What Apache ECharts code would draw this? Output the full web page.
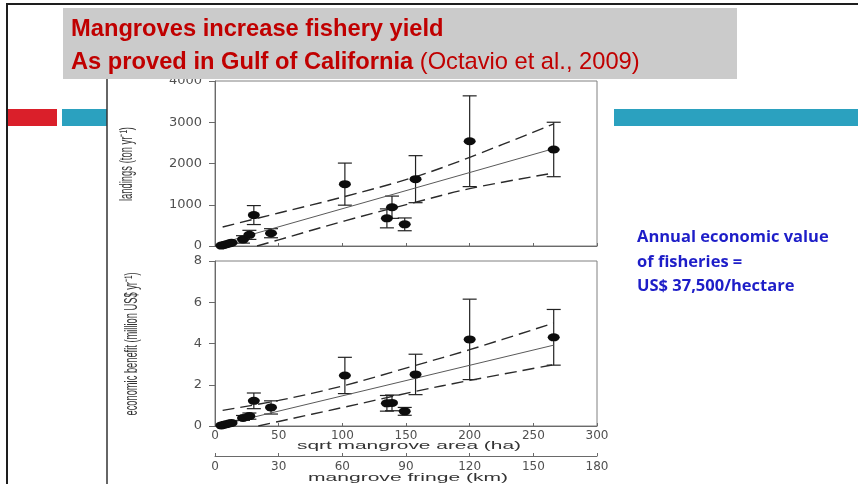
<!DOCTYPE html>
<html>
<head>
<meta charset="utf-8">
<title>Mangroves increase fishery yield</title>
<script src="https://cdn.jsdelivr.net/npm/echarts@6/dist/echarts.min.js"></script>
<style>
  html, body { margin: 0; padding: 0; background: #ffffff; }
  #chart { width: 858px; height: 484px; }
</style>
</head>
<body>
<div id="chart"></div>
<script>
// Sites: square root of mangrove area (ha)
const sqrtArea   = [5, 7, 9, 11, 13, 22, 27, 30.5, 44, 102, 135, 139, 149, 157.5, 200, 266];
// Fishery landings (ton / yr) and their error half-widths
const landings    = [10, 25, 45, 60, 80, 160, 270, 750, 310, 1500, 670, 940, 525, 1620, 2540, 2340];
const landingsErr = [0, 0, 0, 0, 0, 90, 110, 230, 110, 510, 230, 270, 155, 570, 1100, 660];
// Economic benefit (million US$ / yr) and their error half-widths
const benefit    = [0.03, 0.06, 0.09, 0.12, 0.15, 0.39, 0.48, 1.22, 0.9, 2.45, 1.1, 1.12, 0.71, 2.5, 4.2, 4.3];
const benefitErr = [0, 0, 0, 0, 0, 0.12, 0.15, 0.38, 0.32, 0.88, 0.38, 0.38, 0.19, 0.98, 1.95, 1.35];

// Regression line and confidence bands, landings panel
const landingsFitX   = [5, 266];
const landingsFitY   = [70, 2360];
const landingsUpperX = [6, 50, 102, 157.5, 200, 266];
const landingsUpperY = [460, 800, 1200, 1680, 2150, 2960];
const landingsLowerX = [33, 50, 102, 157.5, 200, 266];
const landingsLowerY = [0, 150, 610, 1060, 1390, 1770];

// Regression line and confidence bands, economic benefit panel
const benefitFitX   = [8, 266];
const benefitFitY   = [0.1, 3.92];
const benefitUpperX = [6, 50, 102, 157.5, 200, 266];
const benefitUpperY = [0.76, 1.24, 1.97, 2.94, 3.7, 4.99];
const benefitLowerX = [34, 50, 102, 157.5, 200, 266];
const benefitLowerY = [0, 0.22, 0.92, 1.68, 2.21, 2.97];

// Axis ticks
const areaTicks    = { min: 0, max: 300, step: 50 };
const fringeTicks  = { min: 0, max: 180, step: 30 };
const landingTicks = { min: 0, max: 4000, step: 1000 };
const benefitTicks = { min: 0, max: 8, step: 2 };

// Axis titles
const areaTitle     = 'sqrt mangrove area (ha)';
const fringeTitle   = 'mangrove fringe (km)';
const landingsTitle = 'landings (ton yr⁻¹)';
const benefitTitle  = 'economic benefit (million US$ yr⁻¹)';

// Slide text
const titleLine1 = 'Mangroves increase fishery yield';
const titleLine2Bold = 'As proved in Gulf of California';
const titleLine2Ref = '(Octavio et al., 2009)';
const noteLines = ['Annual economic value', 'of fisheries =', 'US$ 37,500/hectare'];

const zip = (xs, ys) => xs.map((x, i) => [x, ys[i]]);
const errRows = (vals, errs) => sqrtArea.map((x, i) => [x, vals[i] - errs[i], vals[i] + errs[i], errs[i]]);

const tickFont = 'DejaVu Sans, Liberation Sans, sans-serif';
const titleFont = '"Liberation Sans", Arial, sans-serif';
const axisGrey = '#6a6a6a';
const labelGrey = '#505050';

// The figure's lettering is stretched across; scale text to a given run length.
const measureCtx = document.createElement('canvas').getContext('2d');
function runScale(text, font, length) {
  measureCtx.font = font;
  return length / measureCtx.measureText(text).width;
}

function errorBar(params, api) {
  if (api.value(3) <= 0) return null;
  const x = api.value(0);
  const lo = api.coord([x, api.value(1)]);
  const hi = api.coord([x, api.value(2)]);
  const half = 7;
  const st = { stroke: '#222222', lineWidth: 1.2 };
  return {
    type: 'group',
    children: [
      { type: 'line', shape: { x1: lo[0], y1: lo[1], x2: hi[0], y2: hi[1] }, style: st },
      { type: 'line', shape: { x1: hi[0] - half, y1: hi[1], x2: hi[0] + half, y2: hi[1] }, style: st },
      { type: 'line', shape: { x1: lo[0] - half, y1: lo[1], x2: lo[0] + half, y2: lo[1] }, style: st }
    ]
  };
}

function yAxisCfg(grid, ticks, size) {
  return {
    gridIndex: grid, type: 'value',
    min: ticks.min, max: ticks.max, interval: ticks.step,
    axisLine: { show: true, lineStyle: { color: axisGrey, width: 1 } },
    axisTick: { show: true, inside: false, length: 6, lineStyle: { color: axisGrey } },
    axisLabel: { margin: 13, fontFamily: tickFont, fontSize: size, color: labelGrey, formatter: v => String(v) },
    splitLine: { show: false }
  };
}

function fitSeries(xi, yi, data, dashed) {
  return {
    type: 'line', xAxisIndex: xi, yAxisIndex: yi, data: data,
    showSymbol: false, smooth: dashed ? 0.35 : false, silent: true, z: 3,
    lineStyle: dashed ? { color: '#2a2a2a', width: 1.4, type: [12, 6] } : { color: '#5a5a5a', width: 1 }
  };
}

function axisTitle(text, cx, cy, length, vertical) {
  const font = '11px "Liberation Sans", Arial, sans-serif';
  const s = runScale(text, font, length);
  return {
    type: 'text', z: 50, x: cx, y: cy,
    rotation: vertical ? Math.PI / 2 : 0,
    scaleX: s, scaleY: vertical ? 1.65 : 1,
    style: { text: text, font: font, fill: '#333333', align: 'center', verticalAlign: 'middle' }
  };
}

const chart = echarts.init(document.getElementById('chart'), null, { renderer: 'canvas' });

chart.setOption({
  backgroundColor: '#ffffff',
  animation: false,
  grid: [
    { left: 215, right: 261, top: 81, height: 165, show: true, borderColor: '#808080', borderWidth: 1, outerBoundsMode: 'none', containLabel: false },
    { left: 215, right: 261, top: 261, height: 165, show: true, borderColor: '#808080', borderWidth: 1, outerBoundsMode: 'none', containLabel: false }
  ],
  xAxis: [
    {
      gridIndex: 0, type: 'value', min: areaTicks.min, max: areaTicks.max, interval: areaTicks.step,
      axisLine: { lineStyle: { color: axisGrey } },
      axisTick: { inside: true, length: 3, lineStyle: { color: axisGrey } },
      axisLabel: { show: false }, splitLine: { show: false }
    },
    {
      gridIndex: 1, type: 'value', min: areaTicks.min, max: areaTicks.max, interval: areaTicks.step,
      axisLine: { lineStyle: { color: axisGrey } },
      axisTick: { inside: true, length: 3, lineStyle: { color: axisGrey } },
      axisLabel: { margin: 4, fontFamily: tickFont, fontSize: 12, color: labelGrey },
      splitLine: { show: false }
    },
    {
      gridIndex: 1, type: 'value', position: 'bottom', offset: 30,
      min: fringeTicks.min, max: fringeTicks.max, interval: fringeTicks.step,
      axisLine: { show: true, lineStyle: { color: axisGrey } },
      axisTick: { show: true, inside: true, length: 3, lineStyle: { color: axisGrey } },
      axisLabel: { margin: 5, fontFamily: tickFont, fontSize: 12, color: labelGrey },
      splitLine: { show: false }
    }
  ],
  yAxis: [
    yAxisCfg(0, landingTicks, 13),
    yAxisCfg(1, benefitTicks, 13)
  ],
  series: [
    { type: 'custom', xAxisIndex: 0, yAxisIndex: 0, renderItem: errorBar, data: errRows(landings, landingsErr), encode: { x: 0, y: [1, 2] }, z: 2, silent: true },
    { type: 'custom', xAxisIndex: 1, yAxisIndex: 1, renderItem: errorBar, data: errRows(benefit, benefitErr), encode: { x: 0, y: [1, 2] }, z: 2, silent: true },

    fitSeries(0, 0, zip(landingsFitX, landingsFitY), false),
    fitSeries(0, 0, zip(landingsUpperX, landingsUpperY), true),
    fitSeries(0, 0, zip(landingsLowerX, landingsLowerY), true),
    fitSeries(1, 1, zip(benefitFitX, benefitFitY), false),
    fitSeries(1, 1, zip(benefitUpperX, benefitUpperY), true),
    fitSeries(1, 1, zip(benefitLowerX, benefitLowerY), true),

    { type: 'scatter', xAxisIndex: 0, yAxisIndex: 0, data: zip(sqrtArea, landings), symbol: 'circle', symbolSize: [12, 8], itemStyle: { color: '#0d0d0d', opacity: 1 }, z: 5, silent: true },
    { type: 'scatter', xAxisIndex: 1, yAxisIndex: 1, data: zip(sqrtArea, benefit), symbol: 'circle', symbolSize: [12, 8], itemStyle: { color: '#0d0d0d', opacity: 1 }, z: 5, silent: true }
  ],
  graphic: [
    // axis titles
    axisTitle(areaTitle, 409, 446, 224, false),
    axisTitle(fringeTitle, 408, 478, 200, false),
    axisTitle(landingsTitle, 127, 164, 74, true),
    axisTitle(benefitTitle, 132, 344, 143, true),
    // slide frame
    { type: 'line', z: 100, shape: { x1: 6, y1: 4, x2: 858, y2: 4 }, style: { stroke: '#1e1e1e', lineWidth: 2 } },
    { type: 'line', z: 100, shape: { x1: 7, y1: 3, x2: 7, y2: 484 }, style: { stroke: '#1e1e1e', lineWidth: 2 } },
    // accent bars
    { type: 'rect', z: 100, shape: { x: 8, y: 109, width: 49, height: 17 }, style: { fill: '#da1f2a' } },
    { type: 'rect', z: 100, shape: { x: 62, y: 109, width: 45, height: 17 }, style: { fill: '#2ba1bf' } },
    { type: 'rect', z: 100, shape: { x: 614, y: 109, width: 244, height: 17 }, style: { fill: '#2ba1bf' } },
    // figure edge
    { type: 'line', z: 100, shape: { x1: 107, y1: 79, x2: 107, y2: 484 }, style: { stroke: '#333333', lineWidth: 1.5 } },
    // title banner
    { type: 'rect', z: 110, shape: { x: 63, y: 8, width: 674, height: 71 }, style: { fill: '#cbcbcb' } },
    {
      type: 'text', z: 111, x: 71, y: 29,
      style: { text: titleLine1, font: 'bold 23.7px ' + titleFont, fill: '#c00000', verticalAlign: 'middle', align: 'left' }
    },
    {
      type: 'text', z: 111, x: 71, y: 62,
      style: {
        text: '{b|' + titleLine2Bold + '} {r|' + titleLine2Ref + '}',
        verticalAlign: 'middle', align: 'left',
        font: '23.7px ' + titleFont, fill: '#c00000',
        rich: {
          b: { font: 'bold 23.7px ' + titleFont, fill: '#c00000', color: '#c00000' },
          r: { font: '23.7px ' + titleFont, fill: '#c00000', color: '#c00000' }
        }
      }
    },
    // side note
    {
      type: 'text', z: 111, x: 637, y: 262,
      style: {
        text: noteLines.join('\n'),
        font: 'bold 16.5px "Open Sans", sans-serif', fill: '#1e1ec8',
        lineHeight: 24.5, verticalAlign: 'middle', align: 'left'
      }
    }
  ]
});
</script>
</body>
</html>
